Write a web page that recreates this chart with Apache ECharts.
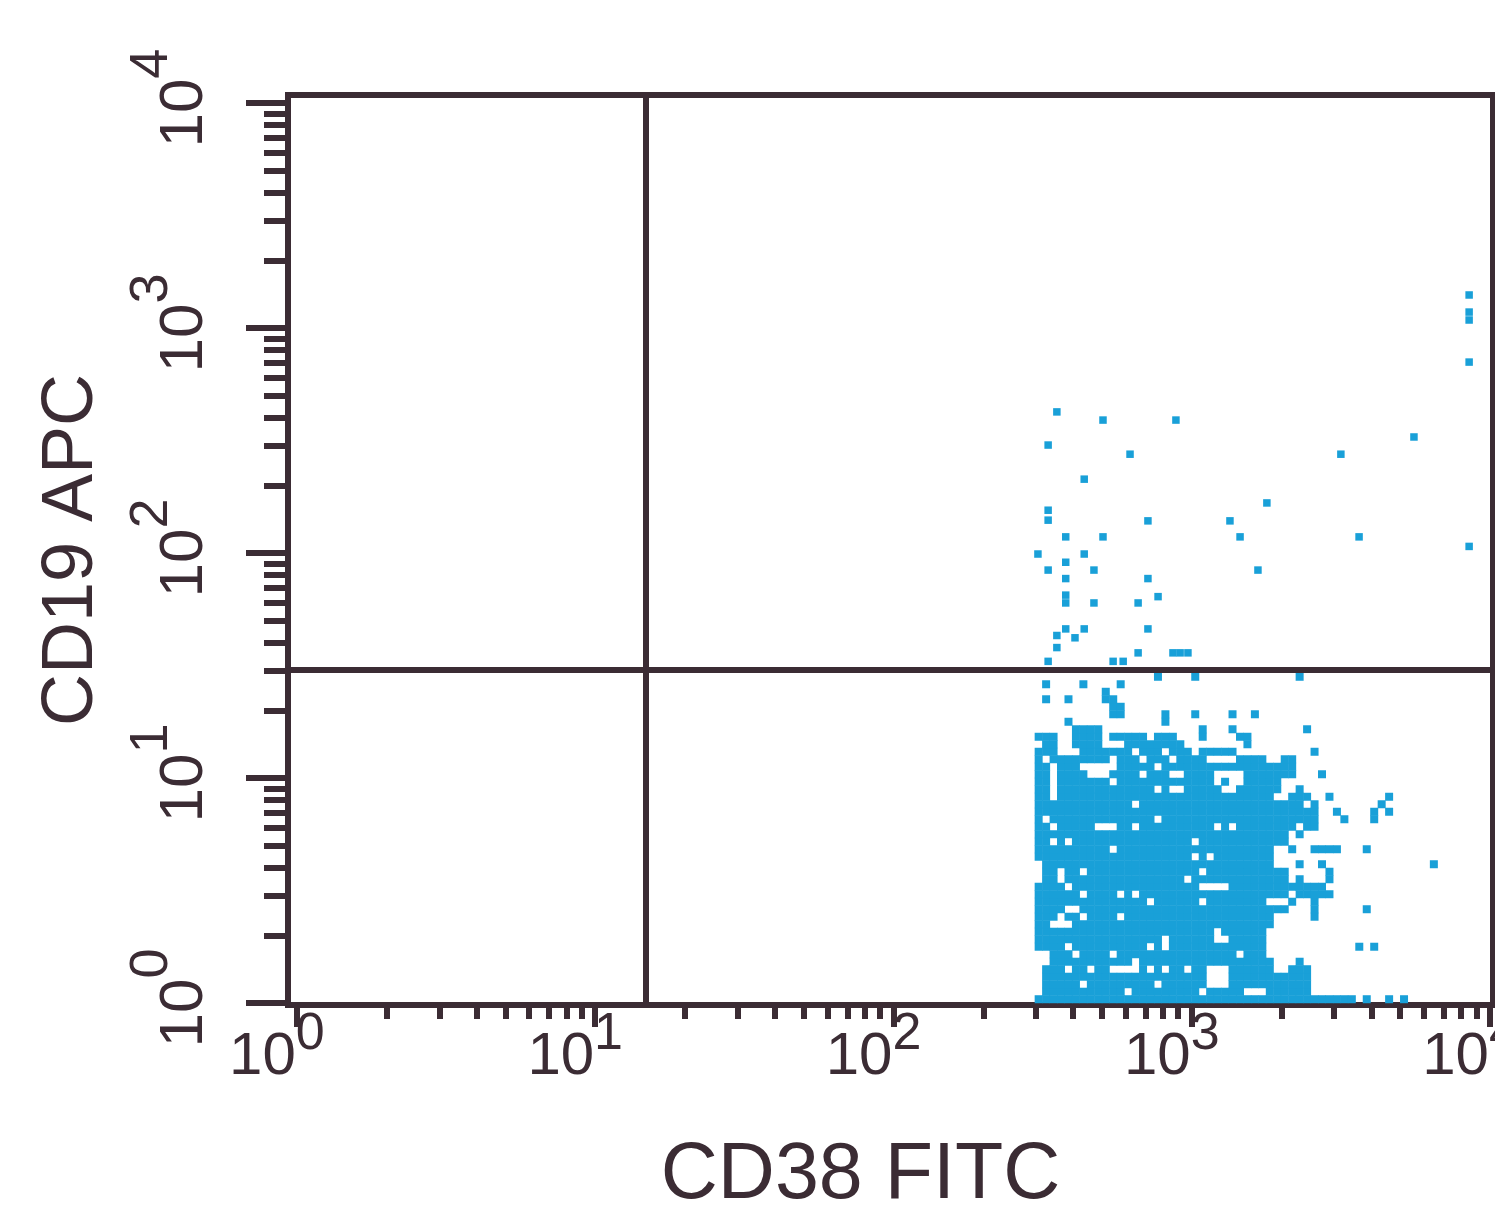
<!DOCTYPE html>
<html><head><meta charset="utf-8">
<script src="https://cdn.jsdelivr.net/npm/echarts@6/dist/echarts.min.js"></script>
<style>html,body{margin:0;padding:0;background:#fff}#c{width:1495px;height:1211px}</style>
</head><body><div id="c"></div>
<script>
// ---------------- data ----------------
const xTitle = 'CD38 FITC';
const yTitle = 'CD19 APC';
const decadeExponents = [0, 1, 2, 3, 4];
const minorMultipliers = [2, 3, 4, 5, 6, 7, 8, 9];
const gateCD38 = 14.7;   // vertical quadrant gate
const gateCD19 = 30.2;   // horizontal quadrant gate

// dense population, read as a channel bitmap ('#' = event bin), rows listed top to bottom
const clusterOriginCD38 = 298;   // CD38 value at left edge of column 0
const clusterOriginCD19 = 1;     // CD19 value at bottom edge of row 0
const clusterColsPerDecade = 40;
const clusterRowsPerDecade = 30;
const clusterRows = [
  ".......... ......#... .#........ .....#....",
  ".#....#... .#........",
  ".........#",
  ".#..#....# #.........",
  ".......... ##........",
  ".......... ##.....#.. .#....#..#",
  "....#..... .......#..",
  ".....####. .......... ..#...#... ......#...",
  "###..####. #####.###. ..#....##.",
  ".##..####. ..######## ........#.",
  "###...#### ###.###.## #.#####... .......#..",
  "#.######## .###.###.# ###....### #..##.....",
  "##.###.... .#####.### ########## #####.....",
  "##.####... ####.###.. ####....## #####...#.",
  "##.####### .######### ####.#..## ###.......",
  "##.####### ######.#.. #####..### ###..#....",
  "##.####### ########## ########## ##..###..# .......#..",
  "########## ###.###### ########## ######.#.. ......#...",
  "########## ########## ########## ########.. #....#.#..",
  "#.######## ######.### ########## ########.. .#...#....",
  "##.#####.. .##.###### ####.#.### #####.##..",
  "########## ########## ########## ####.#....",
  "##.#.##### ########## #.######## ####......",
  "########## .######### ########## ##..#..### #...#.....",
  "########## ########## #.#.###### ##........",
  ".######### ########## ########## ##...#..#. .......... ...#.",
  ".##.##.### ########## ##.####### ####.....#",
  ".##.###### ########## .######### ####.#...#",
  "####.##### ########## ##....#### #########.",
  "######.### #.#.###### ########## ####.#####",
  "########## #####.#### ##.####### #...#..#..",
  "####..#### ########## ########## ####...#.. ....#.....",
  "###.##.### #.######## ########## ##.....#..",
  "##...##### ########## ########## ##........",
  "########## ########## ####.##### #.........",
  "########## #######.## ####..#### #.........",
  "####.##### #####.#.## ########## #......... ...#.#....",
  "..###.#### .######### #######.## #.........",
  "..######## ###.###### ########## ##...#....",
  ".###.##.## ....#.#.## .##...#### ##..###...",
  ".######### ########## ###...#### #######...",
  ".#####.### ######.### ###...#### #######...",
  ".######### ##.####### ##.#####.. .######...",
  "########## ########## ########## ########## ###.#..#.#"
];

// sparse events (CD38, CD19)
const sparseCD38 = [353, 504, 885, 330, 621, 5559, 3162, 436, 1786, 330, 330, 713, 1343, 378, 504, 1452, 3639, 8511,
  305, 436, 378, 330, 470, 1667, 378, 713, 771, 378, 378, 470, 661, 713, 378, 436, 406, 353, 353, 330, 545, 589,
  661, 865, 914, 971, 8511, 8511, 8511, 8511];
const sparseCD19 = [424, 390, 390, 302, 275, 328, 275, 213, 167, 155, 140, 139, 139, 118, 118, 118, 118, 107,
  99, 99, 91, 84, 84, 84, 77, 77, 64, 65, 60, 60, 60, 46, 46, 46, 42, 43, 38, 33, 33, 33,
  36, 36, 36, 36, 1403, 1178, 1086, 706];

// ---------------- build ----------------
const lg = Math.log10;
const XMIN = -0.03, XMAX = 4.01, YMIN = -0.009, YMAX = 4.036;
const DARK = '#3b2c34';
const BLUE = '#19a0d8';
const FONT = '"Liberation Sans", Arial, Helvetica, sans-serif';

const clusterPts = [];
clusterRows.slice().reverse().forEach((row, r) => {
  const s = row.replace(/ /g, '');
  for (let c = 0; c < s.length; c++) {
    if (s[c] === '#') {
      clusterPts.push([lg(clusterOriginCD38) + (c + 0.5) / clusterColsPerDecade,
                       lg(clusterOriginCD19) + (r + 0.5) / clusterRowsPerDecade]);
    }
  }
});
const sparsePts = sparseCD38.map((v, i) => [lg(v), lg(sparseCD19[i])]);
const minorVals = [];
decadeExponents.slice(0, -1).forEach(d => minorMultipliers.forEach(m => minorVals.push(d + lg(m))));

const supFmt = v => '{b|10}{s|' + Math.round(v) + '}';

const chart = echarts.init(document.getElementById('c'), null, {renderer: 'canvas'});
chart.setOption({
  animation: false,
  backgroundColor: '#ffffff',
  grid: {left: 288, top: 95, width: 1205, height: 910, show: true, borderColor: DARK, borderWidth: 6,
         backgroundColor: '#ffffff', containLabel: false, outerBoundsMode: 'none'},
  xAxis: [
    {type: 'value', min: XMIN, max: XMAX, position: 'bottom',
     axisLine: {show: true, onZero: false, lineStyle: {color: DARK, width: 6}},
     axisTick: {show: true, customValues: decadeExponents, length: 22, lineStyle: {color: DARK, width: 6}},
     axisLabel: {show: true, customValues: decadeExponents, margin: 22, formatter: supFmt, color: DARK,
       rich: {
         b: {fontSize: 60, lineHeight: 60, fontFamily: FONT, color: DARK, verticalAlign: 'bottom'},
         s: {fontSize: 52, lineHeight: 52, fontFamily: FONT, color: DARK, verticalAlign: 'bottom', padding: [0, 40, 26, 0]}
       }},
     splitLine: {show: false},
     name: xTitle, nameLocation: 'middle', nameGap: 132,
     nameTextStyle: {fontSize: 79, fontFamily: FONT, color: DARK, padding: [0, 60, 0, 0]}},
    {type: 'value', min: XMIN, max: XMAX, position: 'bottom',
     axisLine: {show: false, onZero: false},
     axisTick: {show: true, customValues: minorVals, length: 14, lineStyle: {color: DARK, width: 6}},
     axisLabel: {show: false}, splitLine: {show: false}}
  ],
  yAxis: [
    {type: 'value', min: YMIN, max: YMAX, position: 'left',
     axisLine: {show: true, onZero: false, lineStyle: {color: DARK, width: 6}},
     axisTick: {show: true, customValues: decadeExponents, length: 42, lineStyle: {color: DARK, width: 6}},
     axisLabel: {show: true, customValues: decadeExponents, rotate: 90, margin: 72, formatter: supFmt, color: DARK,
       rich: {
         b: {fontSize: 62, lineHeight: 62, fontFamily: FONT, color: DARK, verticalAlign: 'bottom', padding: [0, 0, 0, 10]},
         s: {fontSize: 54, lineHeight: 54, fontFamily: FONT, color: DARK, verticalAlign: 'bottom', padding: [0, 0, 37, 0]}
       }},
     splitLine: {show: false},
     name: yTitle, nameLocation: 'middle', nameGap: 180, nameRotate: 90,
     nameTextStyle: {fontSize: 72, fontFamily: FONT, color: DARK}},
    {type: 'value', min: YMIN, max: YMAX, position: 'left',
     axisLine: {show: false, onZero: false},
     axisTick: {show: true, customValues: minorVals, length: 24, lineStyle: {color: DARK, width: 6}},
     axisLabel: {show: false}, splitLine: {show: false}}
  ],
  series: [
    {type: 'scatter', name: 'dense', data: clusterPts, symbol: 'rect', symbolSize: 8,
     itemStyle: {color: BLUE, opacity: 1}, silent: true, z: 2},
    {type: 'scatter', name: 'sparse', data: sparsePts, symbol: 'rect', symbolSize: 7.5,
     itemStyle: {color: BLUE, opacity: 1}, silent: true, z: 2},
    {type: 'scatter', name: 'gates', data: [], z: 5,
     markLine: {silent: true, symbol: ['none', 'none'], label: {show: false},
       lineStyle: {color: DARK, width: 6, type: 'solid'},
       data: [{xAxis: lg(gateCD38)}, {yAxis: lg(gateCD19)}]}}
  ]
});
</script></body></html>
